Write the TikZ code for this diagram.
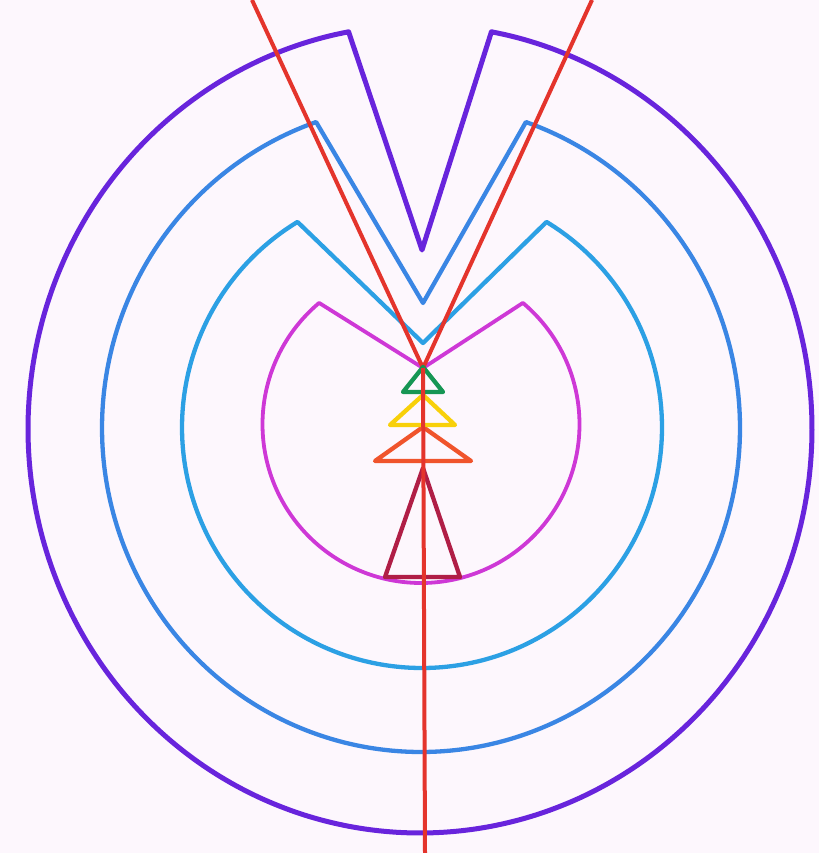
\documentclass[tikz,border=0pt]{standalone}
\definecolor{bgc}{RGB}{253,247,253}
\definecolor{cpurple}{RGB}{104,36,220}
\definecolor{cblueA}{RGB}{58,134,228}
\definecolor{cblueB}{RGB}{44,160,228}
\definecolor{cmagenta}{RGB}{206,56,214}
\definecolor{cred}{RGB}{228,52,44}
\definecolor{cgreen}{RGB}{22,150,84}
\definecolor{cyellow}{RGB}{248,208,10}
\definecolor{corange}{RGB}{240,84,44}
\definecolor{cdarkred}{RGB}{176,30,70}
\begin{document}
\begin{tikzpicture}[x=1pt,y=-1pt,
  ring/.style={line width=4.3pt, line join=round, line cap=round},
  redline/.style={cred, line width=4pt},
  tri/.style={line width=4.3pt, line join=round}]
\fill[bgc] (0,0) rectangle (819,853);
\useasboundingbox (0,0) rectangle (819,853);
% named points
\coordinate (vA) at (422,250);
\coordinate (vB) at (423,303);
\coordinate (vC) at (423,343);
\coordinate (vD) at (423,368);
% outer purple ring
\draw[ring, cpurple, line width=5pt] plot[domain=-79.5:259.5, samples=150, smooth] ({420+392*cos(\x)},{429+404*sin(\x)}) -- (vA) -- cycle;
% blue ring 1
\draw[ring, cblueA] plot[domain=-70.8:250.8, samples=150, smooth] ({421+319*cos(\x)},{428+324*sin(\x)}) -- (vB) -- cycle;
% blue ring 2
\draw[ring, cblueB] plot[domain=-58.75:238.75, samples=150, smooth] ({422+240*cos(\x)},{427.5+240.5*sin(\x)}) -- (vC) -- cycle;
% magenta ring
\draw[ring, cmagenta, line width=3.8pt] plot[domain=-50:230, samples=150, smooth] ({421+158.5*cos(\x)},{424.4+158.6*sin(\x)}) -- (vD) -- cycle;
% red diagonal lines
\coordinate (tl) at (252,0);
\coordinate (tr) at (592,0);
\coordinate (bot) at (425,853);
\draw[redline] (tl) -- (vD) -- (tr);
% triangles
\draw[tri, cdarkred] (423,468) -- (460,577) -- (385,577) -- cycle;
\draw[tri, corange] (423,427) -- (471,461) -- (375,461) -- cycle;
\draw[tri, cyellow] (423,395) -- (455,425) -- (390,425) -- cycle;
\draw[tri, cgreen] (423,367) -- (443,392) -- (403,392) -- cycle;
% vertical red line
\draw[redline] (vD) -- (bot);
\end{tikzpicture}
\end{document}
